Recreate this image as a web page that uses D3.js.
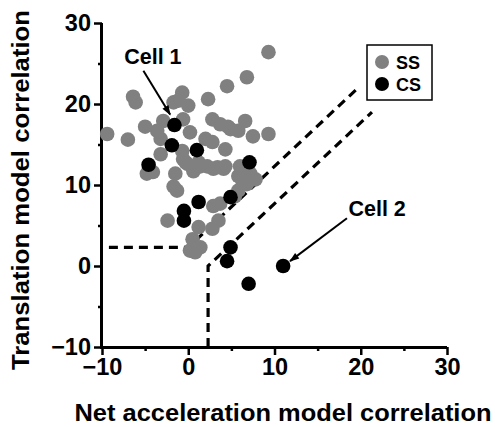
<!DOCTYPE html>
<html>
<head>
<meta charset="utf-8">
<script src="https://d3js.org/d3.v7.min.js"></script>
<style>
  body { margin: 0; background: #fff; }
  text { font-family: "Liberation Sans", Arial, sans-serif; font-weight: bold; }
</style>
</head>
<body>
<svg id="chart"></svg>
<script>
// SS (simple spikes) - grey
var ssX = [-9.4,-6.4,-6.1,-7.0,-5.0,-1.7,-0.7,0.0,-1.2,2.3,4.5,6.8,-3.6,-2.9,-3.2,-0.6,0.2,2.8,3.7,4.9,5.8,6.6,7.5,9.3,9.3,-3.2,-0.7,-0.3,1.4,2.8,4.3,-4.8,-4.1,-1.5,-1.7,-1.3,0.6,2.2,3.4,4.3,6.0,5.8,7.2,7.8,6.8,5.8,5.4,3.7,2.9,-2.4,1.2,3.5,2.8,0.5,0.2,1.4,0.8,-0.1,2.9,1.2,4.1,-0.6,2.0,4.6,6.3];
var ssY = [16.3,20.9,20.2,15.6,17.2,20.2,21.4,19.8,20.4,20.6,22.2,23.3,16.7,17.9,15.7,18.1,16.5,18.1,17.5,16.9,16.7,17.9,16.0,16.3,26.4,13.8,14.2,12.8,12.3,15.3,14.4,11.4,11.6,11.4,9.8,9.3,11.7,12.3,12.2,12.3,12.3,11.1,11.4,10.7,10.1,9.3,8.6,7.7,7.4,5.6,4.8,5.6,4.6,3.3,1.9,2.3,1.7,12.6,12.0,12.8,12.0,13.2,15.7,17.2,10.5];
// CS (complex spikes) - black
var csX = [-1.6,-1.9,1.0,-4.6,7.1,4.9,1.2,-0.5,-0.5,4.9,4.5,7.0,11.0];
var csY = [17.4,14.9,14.3,12.5,12.8,8.5,7.9,6.8,5.6,2.3,0.6,-2.2,0.0];

var majorTicks = [-10, 0, 10, 20, 30];
var minorTicks = [-5, 5, 15, 25];

// dashed boundary lines
var boundUpper = [[-9.2, 2.3], [0, 2.3], [19.7, 22.0]];
var boundLower = [[2.3, -10], [2.3, 0], [21.3, 19.0]];

// annotations: label position and arrow from/to
var cellNames = ["Cell 1", "Cell 2"];
var cellLabelPos = [[-4.1, 24.9], [21.9, 6.2]];
var cellArrows = [[[-5.2, 24.1], [-2.1, 18.7]], [[18.4, 5.9], [11.8, 0.6]]];

var W = 495, H = 427;
var svg = d3.select("#chart").attr("width", W).attr("height", H);

var x = d3.scaleLinear().domain([-10, 30]).range([102, 447]);
var y = d3.scaleLinear().domain([-10, 30]).range([347, 23]);

// axes
svg.append("g").attr("class", "xa").attr("transform", "translate(0," + y(-10) + ")")
    .call(d3.axisBottom(x).tickValues(majorTicks).tickSize(8).tickPadding(3));
svg.append("g").attr("class", "xa").attr("transform", "translate(0," + y(-10) + ")")
    .call(d3.axisBottom(x).tickValues(minorTicks).tickSize(4).tickFormat(""));
svg.append("g").attr("class", "ya").attr("transform", "translate(" + x(-10) + ",0)")
    .call(d3.axisLeft(y).tickValues(majorTicks).tickSize(8).tickPadding(3));
svg.append("g").attr("class", "ya").attr("transform", "translate(" + x(-10) + ",0)")
    .call(d3.axisLeft(y).tickValues(minorTicks).tickSize(4).tickFormat(""));

svg.selectAll(".domain").attr("stroke", "#000").attr("stroke-width", 3);
svg.selectAll(".tick line").attr("stroke", "#000").attr("stroke-width", 2.5);
svg.selectAll(".tick text").attr("fill", "#000")
    .style("font-size", "23.5px").style("font-weight", "bold")
    .style("font-family", "'Liberation Sans', Arial, sans-serif");
// plain axis lines without outer caps
svg.selectAll(".xa .domain").attr("d", "M" + (x(-10) - 1.5) + ",0.5H" + x(30));
svg.selectAll(".ya .domain").attr("d", "M-0.5," + (y(-10) + 1.5) + "V" + y(30));

// dashed lines
var line = d3.line().x(function(d) { return x(d[0]); }).y(function(d) { return y(d[1]); });
[boundUpper, boundLower].forEach(function(b) {
    svg.append("path").attr("d", line(b))
        .attr("fill", "none").attr("stroke", "#000")
        .attr("stroke-width", 3.2).attr("stroke-dasharray", "9,6");
});

// points
svg.append("g").selectAll("circle").data(ssX).enter().append("circle")
    .attr("cx", function(d) { return x(d); })
    .attr("cy", function(d, i) { return y(ssY[i]); })
    .attr("r", 7.3).attr("fill", "#808080");
svg.append("g").selectAll("circle").data(csX).enter().append("circle")
    .attr("cx", function(d) { return x(d); })
    .attr("cy", function(d, i) { return y(csY[i]); })
    .attr("r", 7.3).attr("fill", "#000");

// arrows + labels
svg.append("defs").append("marker")
    .attr("id", "arr").attr("viewBox", "0 0 10 10")
    .attr("refX", 9).attr("refY", 5)
    .attr("markerWidth", 6).attr("markerHeight", 5)
    .attr("orient", "auto")
    .append("path").attr("d", "M0,1.5L10,5L0,8.5z").attr("fill", "#000");

cellNames.forEach(function(name, i) {
    svg.append("line")
        .attr("x1", x(cellArrows[i][0][0])).attr("y1", y(cellArrows[i][0][1]))
        .attr("x2", x(cellArrows[i][1][0])).attr("y2", y(cellArrows[i][1][1]))
        .attr("stroke", "#000").attr("stroke-width", 2)
        .attr("marker-end", "url(#arr)");
    svg.append("text")
        .attr("x", x(cellLabelPos[i][0])).attr("y", y(cellLabelPos[i][1]))
        .attr("text-anchor", "middle").style("font-size", "21.5px")
        .text(name);
});

// legend
var lg = svg.append("g").attr("transform", "translate(367,45)");
lg.append("rect").attr("width", 65).attr("height", 55)
    .attr("fill", "#fff").attr("stroke", "#000").attr("stroke-width", 1.5);
var legendNames = ["SS", "CS"], legendColors = ["#808080", "#000"];
legendNames.forEach(function(n, i) {
    lg.append("circle").attr("cx", 15).attr("cy", 17 + i * 22).attr("r", 7)
        .attr("fill", legendColors[i]);
    lg.append("text").attr("x", 29).attr("y", 23.5 + i * 22)
        .style("font-size", "18px").text(n);
});

// axis titles
svg.append("text").attr("x", 283).attr("y", 421)
    .attr("text-anchor", "middle").style("font-size", "24px")
    .attr("textLength", 417).attr("lengthAdjust", "spacingAndGlyphs")
    .text("Net acceleration model correlation");
svg.append("text")
    .attr("transform", "translate(29,190) rotate(-90)")
    .attr("text-anchor", "middle").style("font-size", "24px")
    .attr("textLength", 360).attr("lengthAdjust", "spacingAndGlyphs")
    .text("Translation model correlation");
</script>
</body>
</html>
